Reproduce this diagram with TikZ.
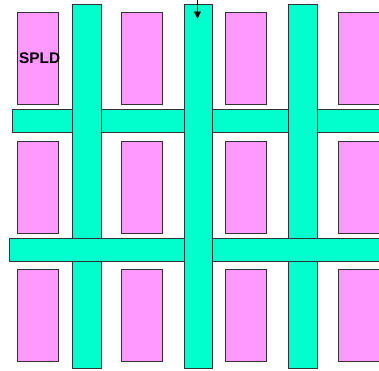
\documentclass[tikz,border=0pt]{standalone}
\usepackage{fontspec}
\setmainfont{Liberation Sans}
\usetikzlibrary{arrows.meta}
\definecolor{cellpink}{HTML}{FF99FF}
\definecolor{wiregreen}{HTML}{00FFCC}
\definecolor{edgegray}{HTML}{333333}
\tikzset{
  cell/.style={draw=edgegray, fill=cellpink, line width=1.2pt, inner sep=0pt, anchor=north west,
    minimum width=41pt, minimum height=92pt},
  vwire/.style={draw=edgegray, fill=wiregreen, line width=1.2pt, inner sep=0pt, anchor=north west,
    minimum width=28.5pt, minimum height=364pt},
  hwire/.style={draw=edgegray, fill=wiregreen, line width=1.2pt, inner sep=0pt, anchor=north west,
    minimum height=23pt},
  lbl/.style={font=\bfseries\fontsize{15.4pt}{16pt}\selectfont, inner sep=0pt}
}
\begin{document}
\begin{tikzpicture}[x=1pt,y=-1pt]
\useasboundingbox (0,0) rectangle (379,370);
\clip (0,0) rectangle (379,370);
% logic cells
\foreach \c/\x in {1/17,2/121,3/225,4/338}{
  \foreach \r/\y in {1/12,2/141,3/269}{
    \node[cell] (cell\c\r) at (\x,\y) {};
  }
}
% upper horizontal wire
\node[hwire, minimum width=372pt] (h1) at (12,109) {};
% vertical wires 1 and 3
\node[vwire] (v1) at (72,4) {};
\node[vwire] (v3) at (288,4) {};
% lower horizontal wire
\node[hwire, minimum width=375pt] (h2) at (9,238) {};
% middle vertical wire
\node[vwire] (v2) at (183.5,4) {};
% label
\node[lbl, anchor=west] (spld) at (19,58.5) {SPLD};
% arrow
\coordinate (arrtop) at (197.5,-1);
\coordinate (arrend) at (197.5,18.5);
\draw[line width=0.9pt, -{Triangle[length=7pt,width=7pt]}] (arrtop) -- (arrend);
\end{tikzpicture}
\end{document}
